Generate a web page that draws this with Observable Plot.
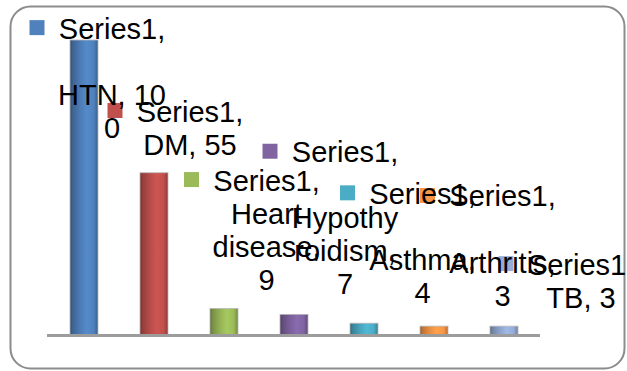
<!DOCTYPE html>
<html>
<head>
<meta charset="utf-8">
<script src="https://cdn.jsdelivr.net/npm/d3@7"></script>
<script src="https://cdn.jsdelivr.net/npm/@observablehq/plot@0.6"></script>
<style>
  body { margin: 0; background: #fff; }
  svg { display: block; }
</style>
</head>
<body>
<div id="chart"></div>
<script>
// Chart data
const seriesName = "Series1";
const categories = ["HTN", "DM", "Heart disease", "Hypothyroidism", "Asthma", "Arthritis", "TB"];
const values = [100, 55, 9, 7, 4, 3, 3];
const colors = ["#4f81bd", "#c0504d", "#9bbb59", "#8064a2", "#4bacc6", "#f79646", "#95acd7"];

// How each data label wraps
const categoryLines = ["HTN", "DM", "Heart\ndisease", "Hypothy\nroidism", "Asthma", "Arthritis", "TB"];
const labelGap = [true, false, false, true, true, true, false];
const valueOwnLine = [false, false, true, true, true, true, false];
const maxLineChars = [7, Infinity, Infinity, Infinity, Infinity, Infinity, Infinity];

// Where each data label sits (y in value units, dx in pixels from the bar centre)
const labelY = [108.6, 80.5, 57.1, 66.7, 52.6, 51.7, 28.6];
const labelDx = [27.5, 35.5, 42, 50.5, 58, 68, 76.5];

function buildLabel(i) {
  const body = valueOwnLine[i]
    ? `${categoryLines[i]},\n${values[i]}`
    : `${categoryLines[i]}, ${values[i]}`;
  const n = maxLineChars[i];
  const wrapped = body.split("\n").flatMap(line => {
    const out = [];
    let rest = line;
    while (rest.length > n) { out.push(rest.slice(0, n)); rest = rest.slice(n); }
    out.push(rest);
    return out;
  }).join("\n");
  return `${seriesName},` + (labelGap[i] ? "\n\n" : "\n") + wrapped;
}

const rows = categories.map((category, i) => ({
  category,
  value: values[i],
  color: colors[i],
  gradient: `url(#bar-shade-${i})`,
  label: buildLabel(i),
  labelY: labelY[i],
  dx: labelDx[i]
}));

const font = "'Liberation Sans', Arial, Helvetica, sans-serif";

const chart = Plot.plot({
  width: 627,
  height: 371,
  marginTop: 40,
  marginBottom: 36,
  marginLeft: 47,
  marginRight: 87,
  style: { background: "#fff", fontFamily: font, overflow: "visible" },
  x: { domain: categories, axis: null, paddingInner: 0.6, paddingOuter: 0.3 },
  y: { domain: [0, 100], axis: null },
  color: { type: "identity" },
  marks: [
    Plot.frame({
      rx: 20, stroke: "#8c8c8c", strokeWidth: 2, fill: "none",
      insetLeft: -37, insetTop: -34, insetRight: -84, insetBottom: -33
    }),
    Plot.barY(rows, {
      x: "category", y: "value", fill: "gradient",
      stroke: "#b8b8b8", strokeWidth: 0.8
    }),
    Plot.ruleY([0], { stroke: "#9c9c9c", strokeWidth: 3 }),
    ...rows.map(d => Plot.dot([d], {
      x: "category", y: "labelY", dx: d.dx - 75, dy: 12.5,
      symbol: "square", r: 8.46, fill: "color", stroke: "none"
    })),
    ...rows.map(d => Plot.text([d], {
      x: "category", y: "labelY", dx: d.dx, text: "label",
      lineAnchor: "top", lineHeight: 1.14, textAnchor: "middle",
      fontSize: 29, fill: "#000", fontFamily: font
    }))
  ]
});

// Cylinder-style shading for each bar
const defs = d3.select(chart).insert("defs", ":first-child");
colors.forEach((c, i) => {
  const base = d3.color(c);
  const g = defs.append("linearGradient")
    .attr("id", `bar-shade-${i}`)
    .attr("x1", 0).attr("x2", 1).attr("y1", 0).attr("y2", 0);
  [
    [0, base.darker(1.4)],
    [0.1, base.darker(0.7)],
    [0.35, base.darker(0.15)],
    [0.6, base.brighter(0.2)],
    [0.85, base],
    [1, base.darker(0.9)]
  ].forEach(([o, col]) => g.append("stop").attr("offset", o).attr("stop-color", col.formatHex()));
});

document.getElementById("chart").appendChild(chart);
</script>
</body>
</html>
